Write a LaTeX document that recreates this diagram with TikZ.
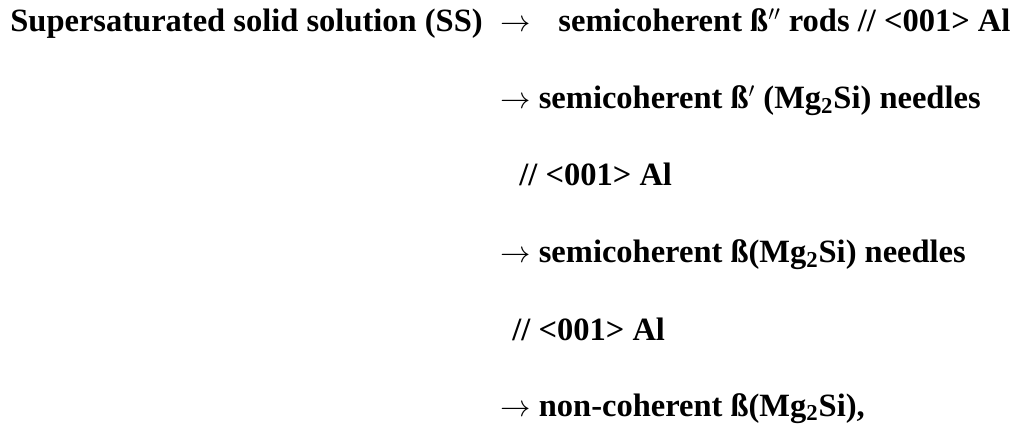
\documentclass[tikz,border=0pt]{standalone}
\usepackage{fontspec}
\setmainfont{Liberation Serif}
\begin{document}
\begin{tikzpicture}[
	seqline/.style={anchor=base west, inner sep=0pt, font=\fontsize{18.5}{22}\selectfont\bfseries}
]
	\useasboundingbox (0,0) rectangle (20.58,-8.52);

	% First stage
	\node[seqline] (ss) at (0.20,-0.64) {Supersaturated solid solution (SS)\hspace{0.2cm} $\rightarrow$\ \ \hspace{0.22cm}semicoherent ß$''$ rods // <001> Al};

	% Following stages
	\node[seqline] (bdash) at (10.00,-2.18) {$\rightarrow$ semicoherent ß$'$ (Mg\textsubscript{2}Si) needles};
	\node[seqline] (bdashdir) at (10.38,-3.72) {// <001> Al};
	\node[seqline] (beta) at (10.00,-5.26) {$\rightarrow$ semicoherent ß(Mg\textsubscript{2}Si) needles};
	\node[seqline] (betadir) at (10.24,-6.80) {// <001> Al};
	\node[seqline] (noncoh) at (10.00,-8.32) {$\rightarrow$ non-coherent ß(Mg\textsubscript{2}Si),};
\end{tikzpicture}
\end{document}
